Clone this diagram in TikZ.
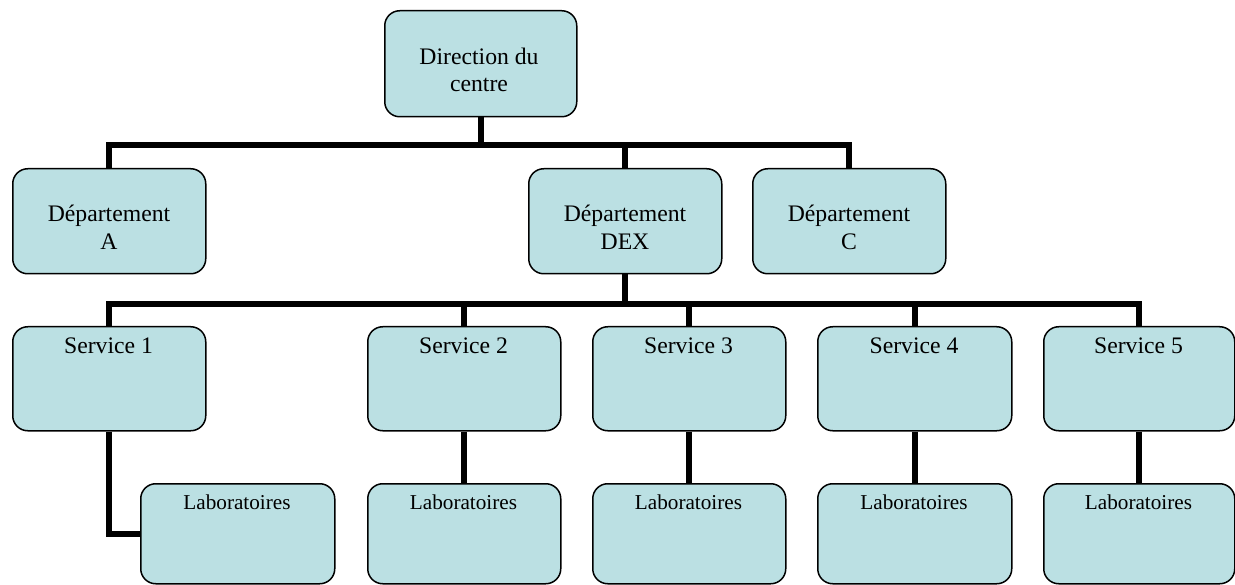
\documentclass[tikz,border=0pt]{standalone}
\usepackage{fontspec}
\setmainfont{Liberation Serif}
\definecolor{boxfill}{RGB}{187,224,227}
\begin{document}
\begin{tikzpicture}[x=1pt,y=-1pt,
  box/.style={draw=black, line width=1.5pt, fill=boxfill, rounded corners=15pt, inner sep=0pt, anchor=north west},
  link/.style={line width=6pt, draw=black},
  big/.style={font=\fontsize{23.7}{27.5}\selectfont, inner sep=0pt, anchor=base},
  small/.style={font=\fontsize{21.2}{25}\selectfont, inner sep=0pt, anchor=base}]
\useasboundingbox (0,0) rectangle (1235,585);
% boxes
\node[box, minimum width=192pt, minimum height=106pt] (dir) at (384,10) {};
\node[box, minimum width=193pt, minimum height=105pt] (dA) at (12,168) {};
\node[box, minimum width=193pt, minimum height=105pt] (dDEX) at (528,168) {};
\node[box, minimum width=193pt, minimum height=105pt] (dC) at (752,168) {};
\node[box, minimum width=193pt, minimum height=104pt] (s1) at (12,326) {};
\node[box, minimum width=193pt, minimum height=104pt] (s2) at (367,326) {};
\node[box, minimum width=193pt, minimum height=104pt] (s3) at (592,326) {};
\node[box, minimum width=194pt, minimum height=104pt] (s4) at (817,326) {};
\node[box, minimum width=191pt, minimum height=104pt] (s5) at (1043,326) {};
\node[box, minimum width=194pt, minimum height=100pt] (l1) at (140,483) {};
\node[box, minimum width=193pt, minimum height=100pt] (l2) at (367,483) {};
\node[box, minimum width=193pt, minimum height=100pt] (l3) at (592,483) {};
\node[box, minimum width=194pt, minimum height=100pt] (l4) at (817,483) {};
\node[box, minimum width=191pt, minimum height=100pt] (l5) at (1043,483) {};
% connectors
\draw[link] (dir.south) -- ++(0,28) coordinate (j0) -| (dA.north);
\draw[link] (j0) -| (dDEX.north);
\draw[link] (j0) -| (dC.north);
\draw[link] (dDEX.south) -- ++(0,30) coordinate (j1) -| (s1.north);
\draw[link] (j1) -| (s2.north);
\draw[link] (j1) -| (s3.north);
\draw[link] (j1) -| (s4.north);
\draw[link] (j1) -| (s5.north);
\draw[link] (s1.south) |- (l1.west);
\draw[link] (s2.south) -- (l2.north);
\draw[link] (s3.south) -- (l3.north);
\draw[link] (s4.south) -- (l4.north);
\draw[link] (s5.south) -- (l5.north);
% texts
\node[big] (tdir1) at (479,64.3) {Direction du};
\node[big] (tdir2) at (479,91.7) {centre};
\node[big] (tA1) at (109,221.7) {Département};
\node[big] (tA2) at (109,249.3) {A};
\node[big] (tD1) at (625,221.7) {Département};
\node[big] (tD2) at (625,249.3) {DEX};
\node[big] (tC1) at (849,221.7) {Département};
\node[big] (tC2) at (849,249.3) {C};
\node[big] (ts1) at (108.5,354) {Service 1};
\node[big] (ts2) at (463.5,354) {Service 2};
\node[big] (ts3) at (688.5,354) {Service 3};
\node[big] (ts4) at (914,354) {Service 4};
\node[big] (ts5) at (1138.5,354) {Service 5};
\node[small] (tl1) at (237,509) {Laboratoires};
\node[small] (tl2) at (463.5,509) {Laboratoires};
\node[small] (tl3) at (688.5,509) {Laboratoires};
\node[small] (tl4) at (914,509) {Laboratoires};
\node[small] (tl5) at (1138.5,509) {Laboratoires};
\end{tikzpicture}
\end{document}
